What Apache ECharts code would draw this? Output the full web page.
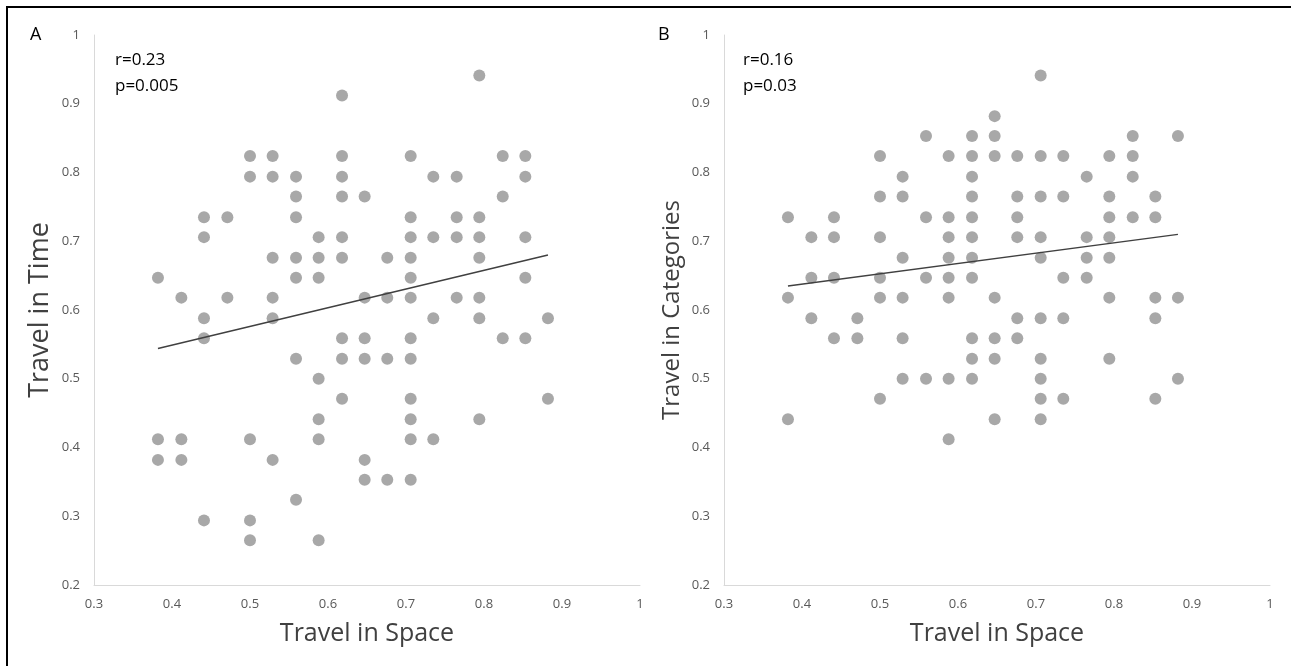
<!DOCTYPE html>
<html>
<head>
<meta charset="utf-8">
<script src="https://cdn.jsdelivr.net/npm/echarts@6/dist/echarts.min.js"></script>
<style>
  html, body { margin: 0; padding: 0; background: #fff; overflow: hidden; }
  #chart { width: 1291px; height: 666px; }
</style>
</head>
<body>
<div id="chart"></div>
<script>
// Panel A: travel in space (x) vs travel in time (y)
const spaceTimeA = [
  [0.794, 0.941],
  [0.618, 0.912],
  [0.5, 0.824], [0.529, 0.824], [0.618, 0.824], [0.706, 0.824], [0.824, 0.824], [0.853, 0.824],
  [0.5, 0.794], [0.529, 0.794], [0.559, 0.794], [0.618, 0.794], [0.735, 0.794], [0.765, 0.794], [0.853, 0.794],
  [0.559, 0.765], [0.618, 0.765], [0.647, 0.765], [0.824, 0.765],
  [0.441, 0.735], [0.471, 0.735], [0.559, 0.735], [0.706, 0.735], [0.765, 0.735], [0.794, 0.735],
  [0.441, 0.706], [0.588, 0.706], [0.618, 0.706], [0.706, 0.706], [0.735, 0.706], [0.765, 0.706], [0.794, 0.706], [0.853, 0.706],
  [0.529, 0.676], [0.559, 0.676], [0.588, 0.676], [0.618, 0.676], [0.676, 0.676], [0.706, 0.676], [0.794, 0.676],
  [0.382, 0.647], [0.559, 0.647], [0.588, 0.647], [0.706, 0.647], [0.853, 0.647],
  [0.412, 0.618], [0.471, 0.618], [0.529, 0.618], [0.647, 0.618], [0.676, 0.618], [0.706, 0.618], [0.765, 0.618], [0.794, 0.618],
  [0.441, 0.588], [0.529, 0.588], [0.735, 0.588], [0.794, 0.588], [0.882, 0.588],
  [0.441, 0.559], [0.618, 0.559], [0.647, 0.559], [0.706, 0.559], [0.824, 0.559], [0.853, 0.559],
  [0.559, 0.529], [0.618, 0.529], [0.647, 0.529], [0.676, 0.529], [0.706, 0.529],
  [0.588, 0.5],
  [0.618, 0.471], [0.706, 0.471], [0.882, 0.471],
  [0.588, 0.441], [0.706, 0.441], [0.794, 0.441],
  [0.382, 0.412], [0.412, 0.412], [0.5, 0.412], [0.588, 0.412], [0.706, 0.412], [0.735, 0.412],
  [0.382, 0.382], [0.412, 0.382], [0.529, 0.382], [0.647, 0.382],
  [0.647, 0.353], [0.676, 0.353], [0.706, 0.353],
  [0.559, 0.324],
  [0.441, 0.294], [0.5, 0.294],
  [0.5, 0.265], [0.588, 0.265]
];
const trendA = [[0.382, 0.544], [0.882, 0.68]];

// Panel B: travel in space (x) vs travel in categories (y)
const spaceCategoriesB = [
  [0.706, 0.941],
  [0.647, 0.882],
  [0.559, 0.853], [0.618, 0.853], [0.647, 0.853], [0.824, 0.853], [0.882, 0.853],
  [0.5, 0.824], [0.588, 0.824], [0.618, 0.824], [0.647, 0.824], [0.676, 0.824], [0.706, 0.824], [0.735, 0.824], [0.794, 0.824], [0.824, 0.824],
  [0.529, 0.794], [0.618, 0.794], [0.765, 0.794], [0.824, 0.794],
  [0.5, 0.765], [0.529, 0.765], [0.618, 0.765], [0.676, 0.765], [0.706, 0.765], [0.735, 0.765], [0.794, 0.765], [0.853, 0.765],
  [0.382, 0.735], [0.441, 0.735], [0.559, 0.735], [0.588, 0.735], [0.618, 0.735], [0.676, 0.735], [0.794, 0.735], [0.824, 0.735], [0.853, 0.735],
  [0.412, 0.706], [0.441, 0.706], [0.5, 0.706], [0.588, 0.706], [0.618, 0.706], [0.676, 0.706], [0.706, 0.706], [0.765, 0.706], [0.794, 0.706],
  [0.529, 0.676], [0.588, 0.676], [0.618, 0.676], [0.706, 0.676], [0.765, 0.676], [0.794, 0.676],
  [0.412, 0.647], [0.441, 0.647], [0.5, 0.647], [0.559, 0.647], [0.588, 0.647], [0.618, 0.647], [0.735, 0.647], [0.765, 0.647],
  [0.382, 0.618], [0.5, 0.618], [0.529, 0.618], [0.588, 0.618], [0.647, 0.618], [0.794, 0.618], [0.853, 0.618], [0.882, 0.618],
  [0.412, 0.588], [0.471, 0.588], [0.676, 0.588], [0.706, 0.588], [0.735, 0.588], [0.853, 0.588],
  [0.441, 0.559], [0.471, 0.559], [0.529, 0.559], [0.618, 0.559], [0.647, 0.559], [0.676, 0.559],
  [0.618, 0.529], [0.647, 0.529], [0.706, 0.529], [0.794, 0.529],
  [0.529, 0.5], [0.559, 0.5], [0.588, 0.5], [0.618, 0.5], [0.706, 0.5], [0.882, 0.5],
  [0.5, 0.471], [0.706, 0.471], [0.735, 0.471], [0.853, 0.471],
  [0.382, 0.441], [0.647, 0.441], [0.706, 0.441],
  [0.588, 0.412]
];
const trendB = [[0.382, 0.635], [0.882, 0.71]];

const statsA = ["r=0.23", "p=0.005"];
const statsB = ["r=0.16", "p=0.03"];

const FONT = "Open Sans";
const dotColor = "#929292";
const lineColor = "#404040";

function xAxisFor(i) {
  return {
    gridIndex: i,
    type: "value",
    min: 0.3,
    max: 1,
    interval: 0.1,
    name: "Travel in Space",
    nameLocation: "middle",
    nameGap: 36,
    nameTextStyle: { fontFamily: FONT, fontSize: 25, color: "#404040" },
    axisLine: { show: true, lineStyle: { color: "#d9d9d9", width: 1 } },
    axisTick: { show: false },
    splitLine: { show: false },
    axisLabel: { fontFamily: FONT, fontSize: 13, color: "#595959", margin: 13 }
  };
}
function yAxisFor(i, name, size) {
  return {
    gridIndex: i,
    type: "value",
    min: 0.2,
    max: 1,
    interval: 0.1,
    name: name,
    nameLocation: "middle",
    nameGap: 40,
    nameTextStyle: { fontFamily: FONT, fontSize: size, color: "#404040" },
    axisLine: { show: true, lineStyle: { color: "#d9d9d9", width: 1 } },
    axisTick: { show: false },
    splitLine: { show: false },
    axisLabel: { fontFamily: FONT, fontSize: 13, color: "#595959", margin: 14 }
  };
}
function scatterFor(i, data) {
  return {
    type: "scatter",
    xAxisIndex: i,
    yAxisIndex: i,
    data: data,
    symbolSize: 12,
    itemStyle: { color: dotColor },
    animation: false,
    silent: true
  };
}
function trendFor(i, data) {
  return {
    type: "line",
    xAxisIndex: i,
    yAxisIndex: i,
    data: data,
    symbol: "none",
    lineStyle: { color: lineColor, width: 1.5 },
    animation: false,
    silent: true
  };
}
function statText(x, lines) {
  return {
    type: "text",
    left: x,
    top: 47,
    style: {
      text: lines.join("\n"),
      fontFamily: FONT,
      fontSize: 17,
      lineHeight: 26,
      fill: "#000"
    }
  };
}

const chart = echarts.init(document.getElementById("chart"));
chart.setOption({
  backgroundColor: "#fff",
  grid: [
    { left: 94, top: 35, width: 546, height: 550 },
    { left: 724, top: 35, width: 546, height: 550 }
  ],
  xAxis: [xAxisFor(0), xAxisFor(1)],
  yAxis: [yAxisFor(0, "Travel in Time", 27), yAxisFor(1, "Travel in Categories", 24)],
  series: [
    scatterFor(0, spaceTimeA),
    trendFor(0, trendA),
    scatterFor(1, spaceCategoriesB),
    trendFor(1, trendB)
  ],
  graphic: [
    {
      type: "rect",
      shape: { x: 7, y: 7, width: 1500, height: 900 },
      style: { fill: "none", stroke: "#000", lineWidth: 2 },
      silent: true
    },
    { type: "text", left: 30, top: 26, style: { text: "A", fontFamily: FONT, fontSize: 18, fill: "#000" } },
    { type: "text", left: 658, top: 26, style: { text: "B", fontFamily: FONT, fontSize: 18, fill: "#000" } },
    statText(115, statsA),
    statText(743, statsB)
  ]
});
</script>
</body>
</html>
